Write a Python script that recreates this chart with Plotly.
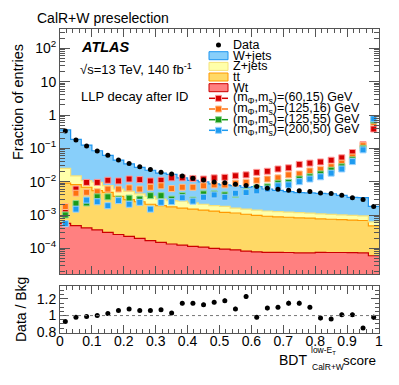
import numpy as np
import plotly.graph_objects as go

# the page puts the figure 8px in from the top-left corner of the window
W, H = 391, 377
OFF = 8
FONT = "Liberation Sans, Arial, Helvetica, sans-serif"

n_bins = 30
bin_edges = np.linspace(0, 1, n_bins + 1)
bin_centers = 0.5 * (bin_edges[:-1] + bin_edges[1:])

# Data (fraction of entries)
data = [0.33, 0.178, 0.117, 0.083, 0.062, 0.045, 0.035, 0.028, 0.023, 0.019,
        0.017, 0.0148, 0.0126, 0.0112, 0.0098, 0.0093, 0.0083, 0.0077, 0.0071, 0.0063,
        0.0059, 0.0055, 0.0053, 0.0051, 0.0046, 0.0044, 0.0039, 0.0033, 0.0029, 0.0018]

# Backgrounds
wjets = [0.335, 0.17, 0.114, 0.075, 0.054, 0.038, 0.029, 0.0227, 0.0184, 0.015,
         0.0138, 0.0104, 0.0087, 0.0078, 0.0067, 0.0062, 0.006, 0.0053, 0.0057, 0.0047,
         0.0042, 0.0038, 0.0035, 0.0035, 0.0034, 0.0033, 0.0029, 0.0024, 0.0024, 0.0012]
zjets = [0.016, 0.0068, 0.004, 0.0042, 0.0028, 0.0024, 0.0022, 0.0018, 0.0015, 0.0011,
         0.00095, 0.001, 0.0008, 0.0007, 0.0006, 0.0006, 0.00045, 0.00045, 0.00042, 0.0004,
         0.00038, 0.00037, 0.00036, 0.00033, 0.00031, 0.0003, 0.00028, 0.00027, 0.00026, 0.00015]
ttbar = [0.00844, 0.00772, 0.00639, 0.00504, 0.0045, 0.00334, 0.00267, 0.0023, 0.00193, 0.00175,
         0.00162, 0.00148, 0.00139, 0.00129, 0.0012, 0.00111, 0.00106, 0.00097, 0.0009, 0.00084,
         0.0008, 0.00078, 0.00075, 0.00073, 0.00069, 0.00067, 0.00065, 0.00063, 0.00061, 0.00041]
wt = [5.6e-4, 4.8e-4, 4.1e-4, 3.6e-4, 3.0e-4, 2.6e-4, 2.3e-4, 2.0e-4, 1.7e-4, 1.5e-4,
      1.35e-4, 1.25e-4, 1.15e-4, 1.08e-4, 1.0e-4, 9.5e-5, 9.0e-5, 8.2e-5, 7.8e-5, 7.6e-5,
      7.6e-5, 7.5e-5, 7.3e-5, 7.3e-5, 7.6e-5, 7.5e-5, 7.5e-5, 7.4e-5, 7.3e-5, 6.0e-5]

# Signals
sig_60_15 = [1.5e-3, 6.0e-3, 9.5e-3, 9.5e-3, 0.011, 0.0105, 0.012, 0.0115, 0.0105, 0.011,
             0.013, 0.013, 0.0125, 0.012, 0.013, 0.0135, 0.015, 0.016, 0.019, 0.0205,
             0.024, 0.026, 0.033, 0.036, 0.039, 0.044, 0.052, 0.075, 0.13, 0.38]
sig_125_16 = [1.8e-3, 4.5e-3, 4.8e-3, 5.0e-3, 6.0e-3, 6.0e-3, 6.5e-3, 6.0e-3, 6.8e-3, 7.5e-3,
              6.2e-3, 6.8e-3, 6.8e-3, 7.5e-3, 8.0e-3, 8.0e-3, 9.0e-3, 9.5e-3, 0.011, 0.012,
              0.013, 0.016, 0.017, 0.021, 0.023, 0.028, 0.036, 0.055, 0.12, 0.6]
sig_125_55 = [1.0e-3, 2.2e-3, 2.3e-3, 3.5e-3, 3.5e-3, 3.0e-3, 3.2e-3, 3.0e-3, 3.8e-3, 3.8e-3,
              3.0e-3, 3.8e-3, 2.8e-3, 4.3e-3, 4.3e-3, 4.0e-3, 4.2e-3, 5.0e-3, 6.5e-3, 7.0e-3,
              9.0e-3, 9.5e-3, 0.012, 0.014, 0.017, 0.022, 0.028, 0.045, 0.10, 0.7]
sig_200_50 = [5.5e-4, 1.5e-3, 2.8e-3, 2.5e-3, 1.9e-3, 2.7e-3, 2.1e-3, 2.4e-3, 1.5e-3, 2.4e-3,
              2.5e-3, 3.3e-3, 2.6e-3, 3.4e-3, 4.0e-3, 3.4e-3, 4.5e-3, 4.7e-3, 5.3e-3, 6.0e-3,
              7.5e-3, 8.0e-3, 0.010, 0.012, 0.014, 0.018, 0.024, 0.04, 0.09, 0.77]

# Ratio panel
ratio = [0.93, 0.98, 0.99, 1.0, 1.025, 1.06, 1.08, 1.06, 1.06, 1.07,
         1.03, 1.15, 1.15, 1.13, 1.16, 1.18, 1.08, 1.23, 0.98, 1.09,
         1.10, 1.15, 1.15, 1.10, 0.97, 0.96, 1.01, 1.01, 0.85, 0.98]
ratio_err = [0.01, 0.01, 0.01, 0.01, 0.015, 0.015, 0.02, 0.02, 0.02, 0.02,
             0.02, 0.025, 0.025, 0.025, 0.025, 0.025, 0.025, 0.03, 0.025, 0.025,
             0.025, 0.03, 0.03, 0.025, 0.025, 0.025, 0.025, 0.025, 0.025, 0.03]

backgrounds = [  # stack order, bottom first
    ("Wt", wt, "#ff8080", "#cc0000"),
    ("tt", ttbar, "#ffd966", "#ff9900"),
    ("Z+jets", zjets, "#ffffaa", "#f5e27a"),
    ("W+jets", wjets, "#88cffa", "#1f96f0"),
]
signals = [
    ("(m<sub>Φ</sub>,m<sub>s</sub>)=(60,15) GeV", sig_60_15, "#d40000", "#ff9a9a"),
    ("(m<sub>Φ</sub>,m<sub>s</sub>)=(125,16) GeV", sig_125_16, "#ff7010", "#ffc090"),
    ("(m<sub>Φ</sub>,m<sub>s</sub>)=(125,55) GeV", sig_125_55, "#1a9a1a", "#90d890"),
    ("(m<sub>Φ</sub>,m<sub>s</sub>)=(200,50) GeV", sig_200_50, "#1e9bf0", "#9ad2ff"),
]


def px(x):
    # window pixel -> paper fraction
    return (x - OFF) / W


def py(y):
    return 1 - (y - OFF) / H


fig = go.Figure()

cum = np.zeros(n_bins)
for name, vals, fill, edge in backgrounds:
    fig.add_trace(go.Bar(x=bin_centers, y=vals, width=1 / n_bins,
                         marker=dict(color=fill, line_width=0),
                         xaxis="x", yaxis="y"))
    cum = cum + np.array(vals)
    fig.add_trace(go.Scatter(x=bin_edges, y=np.append(cum, cum[-1]), mode="lines",
                             line=dict(color=edge, width=1.2, shape="hv"),
                             xaxis="x", yaxis="y"))

for name, vals, col, halo in signals:
    fig.add_trace(go.Scatter(x=bin_centers, y=vals, mode="markers",
                             marker=dict(symbol="square", size=6, color=col,
                                         line=dict(color=halo, width=1)),
                             error_y=dict(type="percent", value=14, color=col,
                                          thickness=1, width=0),
                             xaxis="x", yaxis="y"))

fig.add_trace(go.Scatter(x=bin_centers, y=data, mode="markers",
                         marker=dict(symbol="circle", size=5, color="black"),
                         xaxis="x", yaxis="y"))

fig.add_trace(go.Scatter(x=bin_centers, y=ratio, mode="markers",
                         marker=dict(symbol="circle", size=5, color="black"),
                         error_y=dict(type="data", array=ratio_err, color="black",
                                      thickness=1.2, width=0),
                         xaxis="x2", yaxis="y2"))

x_dom = [px(60), px(379)]
frame = "#555555"
tickfont = dict(family=FONT, size=14, color="black")
minor_log = [k * 10.0 ** e for e in range(-5, 3) for k in range(2, 10)]

common_x = dict(domain=x_dom, range=[0, 1], showline=True, linecolor=frame, linewidth=1,
                mirror="allticks", ticks="inside", ticklen=8, tickcolor=frame,
                tickmode="linear", dtick=0.1, tick0=0, tickangle=0,
                showgrid=False, zeroline=False, automargin=False,
                minor=dict(dtick=0.02, ticks="inside", ticklen=4, tickcolor=frame))

fig.update_layout(
    width=W, height=H, margin=dict(l=0, r=0, t=0, b=0),
    paper_bgcolor="white", plot_bgcolor="white",
    showlegend=False, barmode="stack", bargap=0,
    font=dict(family=FONT, size=13, color="black"),
    xaxis=dict(common_x, anchor="y", showticklabels=False),
    yaxis=dict(domain=[py(274), py(29)], type="log", range=[-4.77, 2.58],
               tickmode="array", tickvals=[1e-4, 1e-3, 1e-2, 1e-1, 1, 10, 100],
               ticktext=["10<sup>−4</sup>", "10<sup>−3</sup>", "10<sup>−2</sup>",
                         "10<sup>−1</sup>", "1", "10", "10<sup>2</sup>"],
               showline=True, linecolor=frame, linewidth=1, mirror="allticks",
               ticks="inside", ticklen=10, tickcolor=frame, tickfont=tickfont,
               showgrid=False, zeroline=False, automargin=False, anchor="x",
               minor=dict(tickmode="array", tickvals=minor_log, ticks="inside",
                          ticklen=5, tickcolor=frame)),
    xaxis2=dict(common_x, anchor="y2", tickfont=tickfont, ticklabelstandoff=-5),
    yaxis2=dict(domain=[py(333), py(285.7)], range=[0.79, 1.36],
                tickmode="array", tickvals=[0.8, 1.0, 1.2], ticktext=["0.8", "1", "1.2"],
                showline=True, linecolor=frame, linewidth=1, mirror="allticks",
                ticks="inside", ticklen=8, tickcolor=frame, tickfont=tickfont,
                showgrid=False, zeroline=False, automargin=False, anchor="x2",
                minor=dict(dtick=0.05, ticks="inside", ticklen=4, tickcolor=frame)),
)

shapes = [dict(type="line", xref="x2", yref="y2", x0=0, x1=1, y0=1, y1=1,
               line=dict(color="#777777", width=1, dash="dot"))]
annotations = []


def add_text(x, y, text, size=13, xanchor="left", **kw):
    annotations.append(dict(x=px(x), y=py(y), xref="paper", yref="paper", text=text,
                            showarrow=False, xanchor=xanchor, yanchor="middle",
                            font=dict(family=FONT, size=size, color="black"), **kw))


# Titles and labels
add_text(35, 18, "CalR+W preselection", size=14)
add_text(79, 47, "<b><i>ATLAS</i></b>", size=14.5)
add_text(78, 69, "√s=13 TeV, 140 fb<sup>-1</sup>", size=13)
add_text(79, 97, "LLP decay after ID", size=13)
add_text(18, 102, "Fraction of entries", size=14.5, xanchor="center", textangle=-90)
add_text(21, 310, "Data / Bkg", size=14, xanchor="center", textangle=-90)
add_text(309, 360, "BDT", size=14, xanchor="right")
add_text(309, 350, "low-E<sub>T</sub>", size=8.5)
add_text(310, 367, "CalR+W", size=8.5)
add_text(378, 360, "score", size=13.5, xanchor="right")

# Legend (drawn by hand to get ROOT-like compact spacing)
row_y = [45, 55.7, 66.4, 77, 87.7, 98.3, 109, 119.7, 130.3]
sym_x0, sym_x1, text_x = 209, 228, 231
sym_xc = 0.5 * (sym_x0 + sym_x1)

shapes.append(dict(type="circle", xref="paper", yref="paper",
                   x0=px(sym_xc - 2.5), x1=px(sym_xc + 2.5),
                   y0=py(row_y[0] + 2.5), y1=py(row_y[0] - 2.5),
                   fillcolor="black", line=dict(width=0)))
add_text(text_x, row_y[0], "Data", size=12.5)

for i, (name, vals, fill, edge) in enumerate(reversed(backgrounds)):
    yc = row_y[1 + i]
    shapes.append(dict(type="rect", xref="paper", yref="paper",
                       x0=px(sym_x0), x1=px(sym_x1), y0=py(yc + 4), y1=py(yc - 4),
                       fillcolor=fill, line=dict(color=edge, width=1)))
    add_text(text_x, yc, name, size=12.5)

for i, (name, vals, col, halo) in enumerate(signals):
    yc = row_y[5 + i]
    shapes.append(dict(type="line", xref="paper", yref="paper",
                       x0=px(sym_x0), x1=px(sym_x1), y0=py(yc), y1=py(yc),
                       line=dict(color=col, width=1.5)))
    shapes.append(dict(type="rect", xref="paper", yref="paper",
                       x0=px(sym_xc - 3), x1=px(sym_xc + 3), y0=py(yc + 3), y1=py(yc - 3),
                       fillcolor=col, line=dict(color=halo, width=1)))
    add_text(text_x, yc, name, size=12.5)

fig.update_layout(shapes=shapes, annotations=annotations)

fig.write_html("out.html")
